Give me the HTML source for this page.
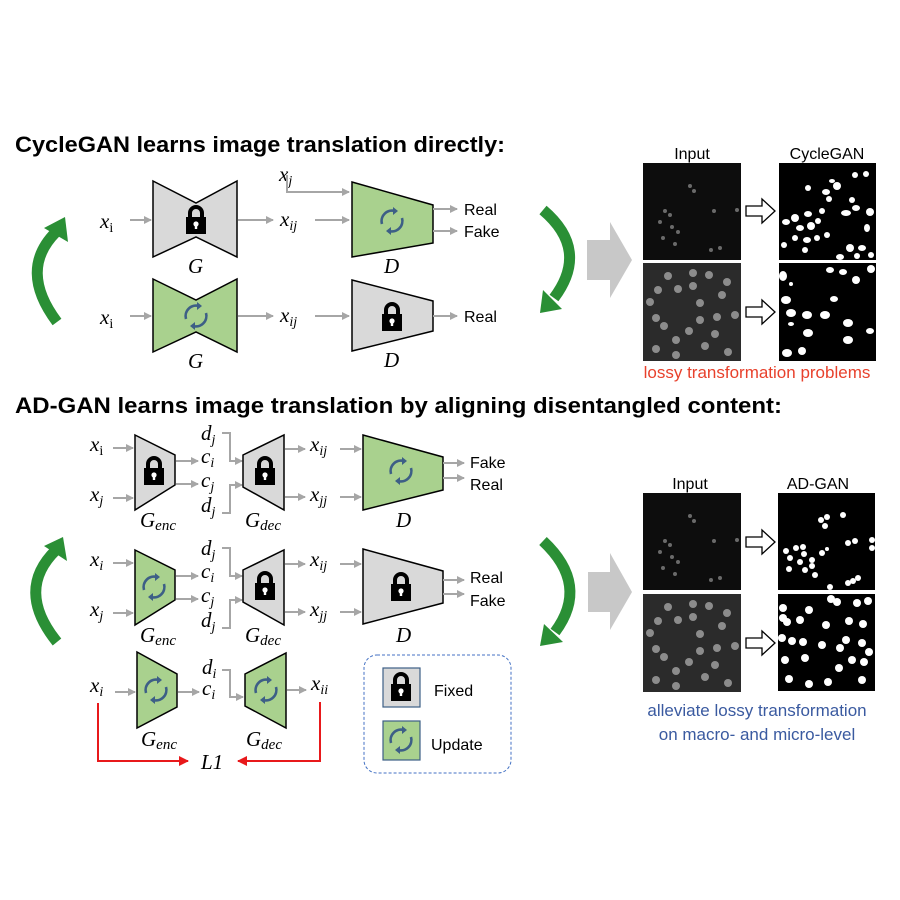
<!DOCTYPE html>
<html><head><meta charset="utf-8">
<style>
html,body{margin:0;padding:0;background:#fff;}
svg{display:block;}
.m{font-family:"Liberation Serif",serif;font-style:italic;font-size:21px;fill:#000;}
.s{font-family:"Liberation Sans",sans-serif;font-size:16px;fill:#000;}
.ga{stroke:#a6a6a6;stroke-width:2;fill:none;}
</style></head>
<body>
<svg width="900" height="900" viewBox="0 0 900 900">
<defs>
<marker id="ah" markerWidth="8" markerHeight="8" refX="7" refY="4" orient="auto" markerUnits="userSpaceOnUse">
<path d="M0,0 L8,4 L0,8 z" fill="#a6a6a6"/></marker>
<marker id="rh" markerWidth="10" markerHeight="10" refX="9" refY="5" orient="auto" markerUnits="userSpaceOnUse">
<path d="M0,0 L10,5 L0,10 z" fill="#e8191b"/></marker>
<g id="lock"><path d="M-6,-3 V-8 A6,6 0 0 1 6,-8 V-3" stroke="#000" stroke-width="4" fill="none"/><rect x="-10" y="-4" width="20" height="17" fill="#000"/><circle cx="0" cy="3" r="2.6" fill="#fff"/><rect x="-1.2" y="3" width="2.4" height="5" fill="#fff"/></g>
<g id="cyc"><path d="M-10,3 A10.5,10.5 0 0 1 3,-10" stroke="#3d5f86" stroke-width="2.6" fill="none"/><path d="M10,-3 A10.5,10.5 0 0 1 -3,10" stroke="#3d5f86" stroke-width="2.6" fill="none"/><path d="M1,-14 L6,-10 L1,-6 z" fill="#3d5f86"/><path d="M-1,14 L-6,10 L-1,6 z" fill="#3d5f86"/></g>
</defs>

<text x="15" y="152" font-family="Liberation Sans, sans-serif" font-weight="bold" font-size="22" textLength="490" lengthAdjust="spacingAndGlyphs">CycleGAN learns image translation directly:</text>
<text x="15" y="413" font-family="Liberation Sans, sans-serif" font-weight="bold" font-size="22" textLength="767" lengthAdjust="spacingAndGlyphs">AD-GAN learns image translation by aligning disentangled content:</text>

<g>
<text class="m" x="100" y="228">x<tspan font-style="normal" font-size="14" dy="4">i</tspan></text>
<line class="ga" x1="130" y1="220" x2="151" y2="220" marker-end="url(#ah)"/>
<path d="M153,181 L196,203 L237,181 L237,257 L196,237 L153,257 Z" fill="#d9d9d9" stroke="#000" stroke-width="1.5"/>
<use href="#lock" x="196" y="221"/>
<text class="m" x="188" y="273">G</text>
<line class="ga" x1="238" y1="220" x2="273" y2="220" marker-end="url(#ah)"/>
<text class="m" x="280" y="226">x<tspan font-size="14" dy="4">ij</tspan></text>
<line class="ga" x1="315" y1="220" x2="349" y2="220" marker-end="url(#ah)"/>
<text class="m" x="279" y="181">x<tspan font-size="14" dy="4">j</tspan></text>
<path class="ga" d="M287,175 V192 H349" marker-end="url(#ah)"/>
<path d="M352,182 L433,205 L433,243 L352,257 Z" fill="#a9d18e" stroke="#000" stroke-width="1.5"/>
<use href="#cyc" x="392" y="221"/>
<text class="m" x="384" y="273">D</text>
<line class="ga" x1="433" y1="209" x2="457" y2="209" marker-end="url(#ah)"/>
<line class="ga" x1="433" y1="231" x2="457" y2="231" marker-end="url(#ah)"/>
<text class="s" x="464" y="215">Real</text>
<text class="s" x="464" y="237">Fake</text>
</g>

<g>
<text class="m" x="100" y="324">x<tspan font-style="normal" font-size="14" dy="4">i</tspan></text>
<line class="ga" x1="130" y1="316" x2="151" y2="316" marker-end="url(#ah)"/>
<path d="M153,279 L196,300 L237,279 L237,352 L196,332 L153,352 Z" fill="#a9d18e" stroke="#000" stroke-width="1.5"/>
<use href="#cyc" x="196" y="316"/>
<text class="m" x="188" y="368">G</text>
<line class="ga" x1="238" y1="316" x2="273" y2="316" marker-end="url(#ah)"/>
<text class="m" x="280" y="322">x<tspan font-size="14" dy="4">ij</tspan></text>
<line class="ga" x1="315" y1="316" x2="349" y2="316" marker-end="url(#ah)"/>
<path d="M352,280 L433,301 L433,331 L352,351 Z" fill="#d9d9d9" stroke="#000" stroke-width="1.5"/>
<use href="#lock" x="392" y="318"/>
<text class="m" x="384" y="367">D</text>
<line class="ga" x1="433" y1="316" x2="457" y2="316" marker-end="url(#ah)"/>
<text class="s" x="464" y="322">Real</text>
</g>

<g>
<path d="M57,322 Q18,270 56,232" stroke="#2a8f35" stroke-width="11" fill="none"/>
<path d="M44,228 L65,217 L68,242 Z" fill="#2a8f35"/>
</g>
<g>
<path d="M543,210 Q590,250 554,298" stroke="#2a8f35" stroke-width="11" fill="none"/>
<path d="M543,290 L540,313 L562,309 Z" fill="#2a8f35"/>
</g>
<g>
<path d="M57,642 Q15,590 56,550" stroke="#2a8f35" stroke-width="11" fill="none"/>
<path d="M44,546 L63,537 L67,561 Z" fill="#2a8f35"/>
</g>
<g>
<path d="M543,541 Q590,585 555,632" stroke="#2a8f35" stroke-width="11" fill="none"/>
<path d="M544,624 L540,646 L563,642 Z" fill="#2a8f35"/>
</g>

<path d="M587,240 H610 V222 L632,260 L610,298 V280 H587 Z" fill="#c8c8c8"/>
<path d="M588,572 H610 V553 L632,592 L610,630 V612 H588 Z" fill="#c8c8c8"/>

<g id="rowA">
<text class="m" x="90" y="451">x<tspan font-style="normal" font-size="14" dy="4">i</tspan></text>
<text class="m" x="90" y="501">x<tspan font-size="14" dy="4">j</tspan></text>
<line class="ga" x1="113" y1="448" x2="133" y2="448" marker-end="url(#ah)"/>
<line class="ga" x1="113" y1="498" x2="133" y2="498" marker-end="url(#ah)"/>
<path d="M135,435 L175,455 L175,485 L135,510 Z" fill="#d9d9d9" stroke="#000" stroke-width="1.5"/>
<use href="#lock" x="154" y="472"/>
<text class="m" x="140" y="527">G<tspan font-size="15" dy="3">enc</tspan></text>
<line class="ga" x1="176" y1="461" x2="198" y2="461" marker-end="url(#ah)"/>
<line class="ga" x1="176" y1="484" x2="198" y2="484" marker-end="url(#ah)"/>
<text class="m" x="201" y="440">d<tspan font-size="14" dy="4">j</tspan></text>
<text class="m" x="201" y="463">c<tspan font-size="14" dy="4">i</tspan></text>
<text class="m" x="201" y="487">c<tspan font-size="14" dy="4">j</tspan></text>
<text class="m" x="201" y="512">d<tspan font-size="14" dy="4">j</tspan></text>
<path class="ga" d="M222,433 H230 V461 H242" marker-end="url(#ah)"/>
<path class="ga" d="M222,513 H230 V485 H242" marker-end="url(#ah)"/>
<path d="M243,455 L284,435 L284,510 L243,487 Z" fill="#d9d9d9" stroke="#000" stroke-width="1.5"/>
<use href="#lock" x="265" y="472"/>
<text class="m" x="245" y="527">G<tspan font-size="15" dy="3">dec</tspan></text>
<line class="ga" x1="285" y1="449" x2="305" y2="449" marker-end="url(#ah)"/>
<line class="ga" x1="285" y1="497" x2="305" y2="497" marker-end="url(#ah)"/>
<text class="m" x="310" y="451">x<tspan font-size="14" dy="4">ij</tspan></text>
<text class="m" x="310" y="501">x<tspan font-size="14" dy="4">jj</tspan></text>
<line class="ga" x1="340" y1="449" x2="361" y2="449" marker-end="url(#ah)"/>
<line class="ga" x1="340" y1="497" x2="361" y2="497" marker-end="url(#ah)"/>
<path d="M363,435 L443,457 L443,490 L363,510 Z" fill="#a9d18e" stroke="#000" stroke-width="1.5"/>
<use href="#cyc" x="401" y="471"/>
<text class="m" x="396" y="527">D</text>
<line class="ga" x1="443" y1="463" x2="464" y2="463" marker-end="url(#ah)"/>
<line class="ga" x1="443" y1="478" x2="464" y2="478" marker-end="url(#ah)"/>
<text class="s" x="470" y="468">Fake</text>
<text class="s" x="470" y="490">Real</text>
</g>

<g>
<text class="m" x="90" y="566">x<tspan font-size="14" dy="4">i</tspan></text>
<text class="m" x="90" y="616">x<tspan font-size="14" dy="4">j</tspan></text>
<line class="ga" x1="113" y1="563" x2="133" y2="563" marker-end="url(#ah)"/>
<line class="ga" x1="113" y1="613" x2="133" y2="613" marker-end="url(#ah)"/>
<path d="M135,550 L175,570 L175,600 L135,625 Z" fill="#a9d18e" stroke="#000" stroke-width="1.5"/>
<use href="#cyc" x="154" y="587"/>
<text class="m" x="140" y="642">G<tspan font-size="15" dy="3">enc</tspan></text>
<line class="ga" x1="176" y1="576" x2="198" y2="576" marker-end="url(#ah)"/>
<line class="ga" x1="176" y1="599" x2="198" y2="599" marker-end="url(#ah)"/>
<text class="m" x="201" y="555">d<tspan font-size="14" dy="4">j</tspan></text>
<text class="m" x="201" y="578">c<tspan font-size="14" dy="4">i</tspan></text>
<text class="m" x="201" y="602">c<tspan font-size="14" dy="4">j</tspan></text>
<text class="m" x="201" y="627">d<tspan font-size="14" dy="4">j</tspan></text>
<path class="ga" d="M222,548 H230 V576 H242" marker-end="url(#ah)"/>
<path class="ga" d="M222,628 H230 V600 H242" marker-end="url(#ah)"/>
<path d="M243,570 L284,550 L284,625 L243,602 Z" fill="#d9d9d9" stroke="#000" stroke-width="1.5"/>
<use href="#lock" x="265" y="587"/>
<text class="m" x="245" y="642">G<tspan font-size="15" dy="3">dec</tspan></text>
<line class="ga" x1="285" y1="564" x2="305" y2="564" marker-end="url(#ah)"/>
<line class="ga" x1="285" y1="612" x2="305" y2="612" marker-end="url(#ah)"/>
<text class="m" x="310" y="566">x<tspan font-size="14" dy="4">ij</tspan></text>
<text class="m" x="310" y="616">x<tspan font-size="14" dy="4">jj</tspan></text>
<line class="ga" x1="340" y1="564" x2="361" y2="564" marker-end="url(#ah)"/>
<line class="ga" x1="340" y1="612" x2="361" y2="612" marker-end="url(#ah)"/>
<path d="M363,549 L443,571 L443,603 L363,624 Z" fill="#d9d9d9" stroke="#000" stroke-width="1.5"/>
<use href="#lock" x="401" y="588"/>
<text class="m" x="396" y="642">D</text>
<line class="ga" x1="443" y1="580" x2="464" y2="580" marker-end="url(#ah)"/>
<line class="ga" x1="443" y1="594" x2="464" y2="594" marker-end="url(#ah)"/>
<text class="s" x="470" y="583">Real</text>
<text class="s" x="470" y="606">Fake</text>
</g>

<g>
<text class="m" x="90" y="692">x<tspan font-size="14" dy="4">i</tspan></text>
<line class="ga" x1="115" y1="692" x2="135" y2="692" marker-end="url(#ah)"/>
<path d="M137,652 L177,674 L177,707 L137,728 Z" fill="#a9d18e" stroke="#000" stroke-width="1.5"/>
<use href="#cyc" x="156" y="690"/>
<text class="m" x="141" y="746">G<tspan font-size="15" dy="3">enc</tspan></text>
<line class="ga" x1="178" y1="692" x2="199" y2="692" marker-end="url(#ah)"/>
<text class="m" x="202" y="674">d<tspan font-size="14" dy="4">i</tspan></text>
<text class="m" x="202" y="695">c<tspan font-size="14" dy="4">i</tspan></text>
<path class="ga" d="M222,670 H230 V697 H243" marker-end="url(#ah)"/>
<path d="M245,674 L286,653 L286,728 L245,706 Z" fill="#a9d18e" stroke="#000" stroke-width="1.5"/>
<use href="#cyc" x="266" y="690"/>
<text class="m" x="246" y="746">G<tspan font-size="15" dy="3">dec</tspan></text>
<line class="ga" x1="287" y1="690" x2="306" y2="690" marker-end="url(#ah)"/>
<text class="m" x="311" y="690">x<tspan font-size="14" dy="4">ii</tspan></text>
<path d="M98,703 V761 H188" stroke="#e8191b" stroke-width="2" fill="none" marker-end="url(#rh)"/>
<path d="M320,702 V761 H238" stroke="#e8191b" stroke-width="2" fill="none" marker-end="url(#rh)"/>
<text class="m" x="201" y="769">L1</text>
</g>

<g>
<rect x="364" y="655" width="147" height="118" rx="13" fill="none" stroke="#4472c4" stroke-width="1" stroke-dasharray="3,2"/>
<g>
<rect x="383" y="668" width="37" height="39" fill="#d9d9d9" stroke="#3d5f86" stroke-width="1.2"/>
<use href="#lock" x="401" y="688"/>
<text class="s" x="434" y="696" font-size="20">Fixed</text>
</g>
<g>
<rect x="383" y="721" width="37" height="39" fill="#a9d18e" stroke="#3d5f86" stroke-width="1.2"/>
<use href="#cyc" x="401" y="740"/>
<text class="s" x="431" y="750" font-size="20">Update</text>
</g>
</g>

<g>
<text class="s" x="692" y="159" text-anchor="middle">Input</text>
<text class="s" x="827" y="159" text-anchor="middle">CycleGAN</text>
<g id="inTop"><rect x="643" y="163" width="98" height="97" fill="#0d0d0d"/>
<g fill="#6a6a6a"><circle cx="690" cy="186" r="2"/><circle cx="694" cy="191" r="2"/><circle cx="665" cy="211" r="2"/><circle cx="670" cy="215" r="2"/><circle cx="660" cy="222" r="2"/><circle cx="672" cy="227" r="2"/><circle cx="678" cy="232" r="2"/><circle cx="663" cy="238" r="2"/><circle cx="675" cy="244" r="2"/><circle cx="714" cy="211" r="2"/><circle cx="711" cy="250" r="2"/><circle cx="720" cy="248" r="2"/><circle cx="737" cy="210" r="2"/></g></g>
<g id="inBot"><rect x="643" y="263" width="98" height="98" fill="#2b2b2b"/>
<g fill="#8c8c8c"><circle cx="668" cy="276" r="4"/><circle cx="693" cy="273" r="4"/><circle cx="709" cy="275" r="4"/><circle cx="727" cy="282" r="4"/><circle cx="658" cy="290" r="4"/><circle cx="678" cy="289" r="4"/><circle cx="693" cy="286" r="4"/><circle cx="722" cy="295" r="4"/><circle cx="650" cy="302" r="4"/><circle cx="700" cy="303" r="4"/><circle cx="656" cy="318" r="4"/><circle cx="700" cy="320" r="4"/><circle cx="717" cy="317" r="4"/><circle cx="735" cy="315" r="4"/><circle cx="664" cy="326" r="4"/><circle cx="689" cy="331" r="4"/><circle cx="676" cy="340" r="4"/><circle cx="715" cy="334" r="4"/><circle cx="656" cy="349" r="4"/><circle cx="705" cy="346" r="4"/><circle cx="728" cy="352" r="4"/><circle cx="676" cy="355" r="4"/></g></g>
<rect x="779" y="163" width="97" height="97" fill="#000"/>
<g fill="#fff"><ellipse cx="832" cy="181" rx="3" ry="2"/><ellipse cx="855" cy="175" rx="3" ry="3"/><ellipse cx="808" cy="188" rx="3" ry="3"/><ellipse cx="826" cy="192" rx="4" ry="3"/><ellipse cx="837" cy="186" rx="4" ry="4"/><ellipse cx="829" cy="199" rx="3" ry="3"/><ellipse cx="822" cy="211" rx="3" ry="3"/><ellipse cx="852" cy="200" rx="3" ry="3"/><ellipse cx="866" cy="174" rx="3" ry="3"/><ellipse cx="786" cy="222" rx="4" ry="3"/><ellipse cx="795" cy="218" rx="4" ry="4"/><ellipse cx="800" cy="228" rx="4" ry="3"/><ellipse cx="808" cy="214" rx="4" ry="3"/><ellipse cx="811" cy="226" rx="4" ry="4"/><ellipse cx="818" cy="221" rx="3" ry="3"/><ellipse cx="795" cy="238" rx="3" ry="3"/><ellipse cx="807" cy="240" rx="4" ry="3"/><ellipse cx="817" cy="238" rx="3" ry="3"/><ellipse cx="827" cy="235" rx="3" ry="3"/><ellipse cx="805" cy="250" rx="3" ry="3"/><ellipse cx="784" cy="245" rx="3" ry="3"/><ellipse cx="846" cy="213" rx="5" ry="3"/><ellipse cx="856" cy="208" rx="4" ry="3"/><ellipse cx="870" cy="212" rx="4" ry="4"/><ellipse cx="867" cy="228" rx="3" ry="4"/><ellipse cx="850" cy="248" rx="4" ry="4"/><ellipse cx="862" cy="248" rx="4" ry="3"/><ellipse cx="871" cy="255" rx="3" ry="3"/><ellipse cx="840" cy="257" rx="4" ry="3"/><ellipse cx="857" cy="256" rx="3" ry="3"/></g>
<rect x="779" y="263" width="97" height="98" fill="#000"/>
<g fill="#fff"><ellipse cx="783" cy="276" rx="4" ry="5"/><ellipse cx="830" cy="270" rx="4" ry="3"/><ellipse cx="843" cy="272" rx="4" ry="3"/><ellipse cx="871" cy="269" rx="4" ry="4"/><ellipse cx="856" cy="280" rx="4" ry="4"/><ellipse cx="791" cy="284" rx="2" ry="2"/><ellipse cx="834" cy="299" rx="4" ry="3"/><ellipse cx="786" cy="300" rx="5" ry="4"/><ellipse cx="791" cy="313" rx="5" ry="4"/><ellipse cx="807" cy="315" rx="5" ry="4"/><ellipse cx="825" cy="315" rx="5" ry="4"/><ellipse cx="848" cy="323" rx="5" ry="4"/><ellipse cx="791" cy="324" rx="3" ry="2"/><ellipse cx="808" cy="333" rx="5" ry="4"/><ellipse cx="870" cy="331" rx="4" ry="3"/><ellipse cx="848" cy="340" rx="5" ry="4"/><ellipse cx="787" cy="353" rx="5" ry="4"/><ellipse cx="802" cy="351" rx="4" ry="4"/></g>
<path d="M746,206 H762 V199 L775,211 L762,223 V216 H746 Z" fill="#fff" stroke="#000" stroke-width="1.3"/>
<path d="M746,307 H762 V300 L775,312 L762,324 V317 H746 Z" fill="#fff" stroke="#000" stroke-width="1.3"/>
<text x="757" y="378" text-anchor="middle" font-family="Liberation Sans, sans-serif" font-size="17" fill="#e8412c">lossy transformation problems</text>
</g>

<g>
<text class="s" x="690" y="489" text-anchor="middle">Input</text>
<text class="s" x="818" y="489" text-anchor="middle">AD-GAN</text>
<use href="#inTop" x="0" y="330"/>
<use href="#inBot" x="0" y="331"/>
<rect x="778" y="493" width="97" height="97" fill="#000"/>
<g fill="#fff"><ellipse cx="827" cy="517" rx="3" ry="3"/><ellipse cx="821" cy="520" rx="3" ry="3"/><ellipse cx="825" cy="526" rx="3" ry="3"/><ellipse cx="843" cy="515" rx="3" ry="3"/><ellipse cx="786" cy="551" rx="3" ry="3"/><ellipse cx="796" cy="548" rx="3" ry="3"/><ellipse cx="803" cy="547" rx="3" ry="3"/><ellipse cx="804" cy="554" rx="3" ry="3"/><ellipse cx="790" cy="558" rx="3" ry="3"/><ellipse cx="800" cy="562" rx="3" ry="3"/><ellipse cx="812" cy="560" rx="3" ry="3"/><ellipse cx="822" cy="553" rx="3" ry="3"/><ellipse cx="827" cy="549" rx="2" ry="2"/><ellipse cx="848" cy="543" rx="3" ry="3"/><ellipse cx="855" cy="541" rx="3" ry="3"/><ellipse cx="872" cy="540" rx="3" ry="3"/><ellipse cx="872" cy="548" rx="3" ry="3"/><ellipse cx="789" cy="569" rx="3" ry="3"/><ellipse cx="805" cy="570" rx="3" ry="3"/><ellipse cx="815" cy="575" rx="3" ry="3"/><ellipse cx="812" cy="566" rx="3" ry="3"/><ellipse cx="853" cy="581" rx="3" ry="3"/><ellipse cx="848" cy="583" rx="3" ry="3"/><ellipse cx="858" cy="578" rx="3" ry="3"/><ellipse cx="830" cy="587" rx="3" ry="3"/></g>
<rect x="778" y="594" width="97" height="97" fill="#000"/>
<g fill="#fff"><ellipse cx="783" cy="608" rx="4" ry="4"/><ellipse cx="809" cy="610" rx="4" ry="4"/><ellipse cx="831" cy="599" rx="4" ry="4"/><ellipse cx="837" cy="602" rx="4" ry="4"/><ellipse cx="857" cy="603" rx="4" ry="4"/><ellipse cx="868" cy="601" rx="4" ry="4"/><ellipse cx="783" cy="618" rx="4" ry="4"/><ellipse cx="787" cy="622" rx="4" ry="4"/><ellipse cx="800" cy="620" rx="4" ry="4"/><ellipse cx="826" cy="625" rx="4" ry="4"/><ellipse cx="849" cy="621" rx="4" ry="4"/><ellipse cx="863" cy="624" rx="4" ry="4"/><ellipse cx="782" cy="638" rx="4" ry="4"/><ellipse cx="792" cy="641" rx="4" ry="4"/><ellipse cx="803" cy="642" rx="4" ry="4"/><ellipse cx="822" cy="645" rx="4" ry="4"/><ellipse cx="840" cy="648" rx="4" ry="4"/><ellipse cx="846" cy="640" rx="4" ry="4"/><ellipse cx="862" cy="643" rx="4" ry="4"/><ellipse cx="869" cy="652" rx="4" ry="4"/><ellipse cx="785" cy="660" rx="4" ry="4"/><ellipse cx="805" cy="658" rx="4" ry="4"/><ellipse cx="839" cy="668" rx="4" ry="4"/><ellipse cx="852" cy="660" rx="4" ry="4"/><ellipse cx="864" cy="662" rx="4" ry="4"/><ellipse cx="789" cy="679" rx="4" ry="4"/><ellipse cx="809" cy="684" rx="4" ry="4"/><ellipse cx="828" cy="682" rx="4" ry="4"/><ellipse cx="862" cy="680" rx="4" ry="4"/></g>
<path d="M746,537 H762 V530 L775,542 L762,554 V547 H746 Z" fill="#fff" stroke="#000" stroke-width="1.3"/>
<path d="M746,638 H762 V631 L775,643 L762,655 V648 H746 Z" fill="#fff" stroke="#000" stroke-width="1.3"/>
<text x="757" y="716" text-anchor="middle" font-family="Liberation Sans, sans-serif" font-size="17" fill="#3a5aa0">alleviate lossy transformation</text>
<text x="757" y="740" text-anchor="middle" font-family="Liberation Sans, sans-serif" font-size="17" fill="#3a5aa0">on macro- and micro-level</text>
</g>
</svg>
</body></html>
